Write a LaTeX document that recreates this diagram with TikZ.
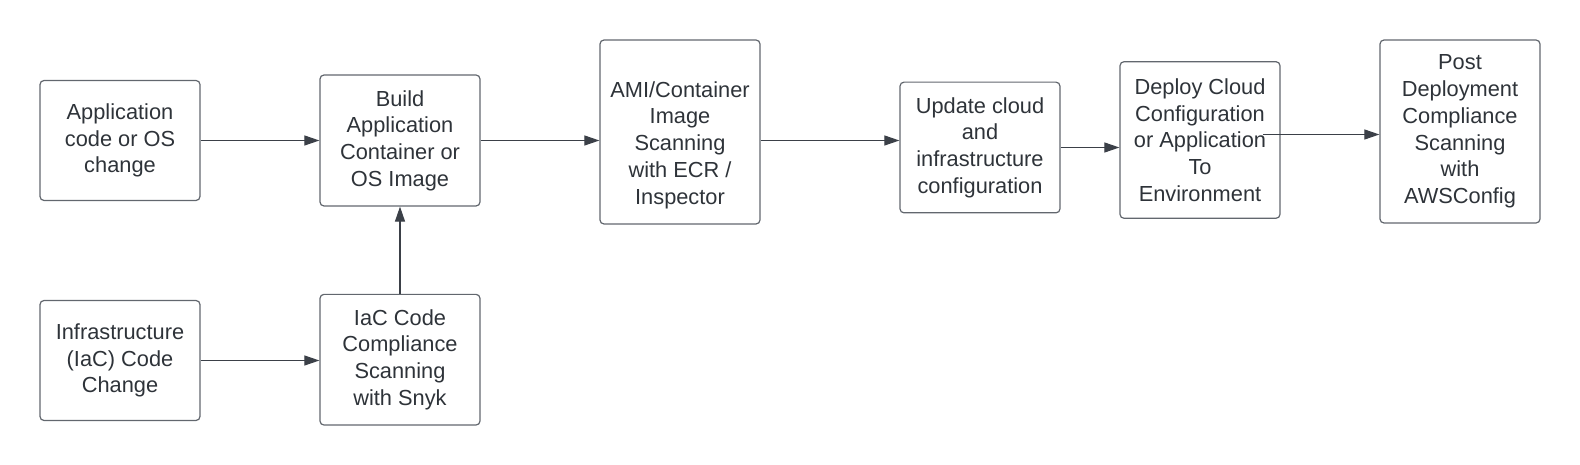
\documentclass[tikz,border=0pt]{standalone}
\usepackage{fontspec}
\setmainfont{Liberation Sans}
\usetikzlibrary{arrows.meta}
\definecolor{txt}{HTML}{2E3339}
\definecolor{boxline}{HTML}{62676E}
\definecolor{arr}{HTML}{3B4048}
\tikzset{
  procbox/.style={draw=boxline, line width=1.2pt, rounded corners=4pt, minimum width=160pt, inner sep=0pt, text=txt, align=center, font=\fontsize{21.8}{26.7}\selectfont},
  plaintext/.style={inner sep=0pt, text=txt, align=center, font=\fontsize{21.8}{26.7}\selectfont},
  flow/.style={draw=arr, line width=1.1pt, -{Triangle[length=15pt,width=10pt]}}
}
\begin{document}
\begin{tikzpicture}[x=1pt,y=-1pt]
\useasboundingbox (0,0) rectangle (1580,465);
\node[procbox, minimum height=120pt] (app) at (120,140.5) {Application\\code or OS\\change};
\node[procbox, minimum height=131pt] (build) at (400,140.5) {Build\\Application\\Container or\\OS Image};
\node[procbox, minimum height=184pt] (ami) at (680,132) {};
\node[plaintext] (amitext) at (680,145) {AMI/Container\\Image\\Scanning\\with ECR /\\Inspector};
\node[procbox, minimum height=130.7pt] (update) at (980,147.5) {Update cloud\\and\\infrastructure\\configuration};
\node[procbox, minimum height=156.6pt] (deploy) at (1200,140) {Deploy Cloud\\Configuration\\or Application\\To\\Environment};
\node[procbox, minimum height=183pt] (post) at (1460,131.5) {Post\\Deployment\\Compliance\\Scanning\\with\\AWSConfig};
\node[procbox, minimum height=120pt] (infra) at (120,360.5) {Infrastructure\\(IaC) Code\\Change};
\node[procbox, minimum height=130.7pt] (iac) at (400,359.7) {IaC Code\\Compliance\\Scanning\\with Snyk};
\coordinate (dpstart) at (1263,134.5);
\draw[flow] (app.east) -- (build.west |- app.east);
\draw[flow] (infra.east) -- (iac.west |- infra.east);
\draw[flow] (iac.north) -- (build.south);
\draw[flow] (build.east) -- (ami.west |- build.east);
\draw[flow] (ami.east |- build.east) -- (update.west |- build.east);
\draw[flow] (update.east) -- (deploy.west |- update.east);
\draw[flow] (dpstart) -- (post.west |- dpstart);
\end{tikzpicture}
\end{document}
